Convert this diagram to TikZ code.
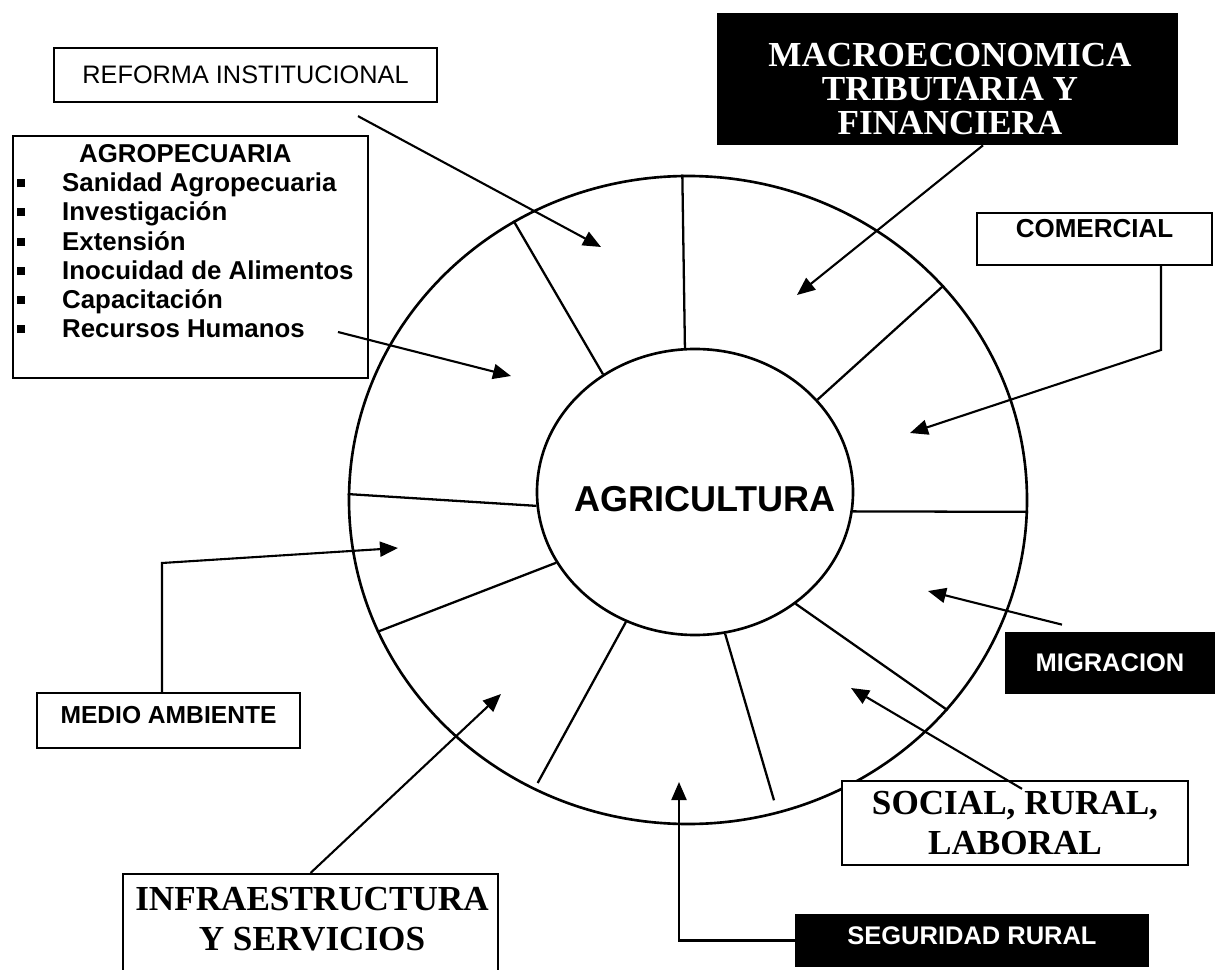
\documentclass[tikz,border=0pt]{standalone}
\usepackage{fontspec}
\setmainfont{Liberation Serif}
\setsansfont{Liberation Sans}
\usetikzlibrary{arrows.meta}
\usetikzlibrary{shapes.geometric}

\newcommand{\agbullet}{\raisebox{0.9mm}{\rule{1.6mm}{1.6mm}}}

\tikzset{
    wheel/.style={draw, ellipse, line width=1.5pt, inner sep=0pt},
    tagbox/.style={draw, fill=white, line width=1.3pt, inner sep=0pt, text height=3.6mm, text depth=0pt,
        font=\sffamily\bfseries\fontsize{14}{16.6}\selectfont},
    darkbox/.style={fill=black, text=white, inner sep=0pt, font=\sffamily\bfseries\fontsize{14.5}{16.6}\selectfont},
    bigbox/.style={draw, fill=white, line width=1.3pt, inner sep=0pt, align=center,
        font=\rmfamily\bfseries\fontsize{20}{22.8}\selectfont},
    feed/.style={line width=1.2pt, -{Triangle[length=3.6mm, width=3mm]}}
}

\begin{document}
\begin{tikzpicture}[x=0.2mm, y=-0.2mm]
    \useasboundingbox (0,0) rectangle (1215,970);
    \clip (0,0) rectangle (1215,970);

    % Wheel: outer ring and hub
    \node[wheel, minimum width=135.6mm, minimum height=129.6mm] (ring) at (688,500) {};
    \node[wheel, minimum width=63.2mm, minimum height=57.2mm] (agri) at (695,492) {};
    \node[font=\sffamily\bfseries\fontsize{20.5}{24}\selectfont] (agritxt) at (705,499) {AGRICULTURA};

    % Spokes between hub and ring
    \foreach \a/\b/\cut in {94/91/0pt, 128/122/0pt, 185/179/0pt, 207/203/0pt, 242/242/1.6mm,
                            282/286/2.8mm, 312/321/0pt, 353/358/0pt, 37/40/0pt}
        \draw[line width=1.3pt, shorten >=\cut] (agri.\a) -- (ring.\b);

    % Reforma institucional
    \node[tagbox, font=\sffamily\fontsize{14.4}{16.6}\selectfont, minimum width=76.6mm, minimum height=10.8mm]
        (reform) at (245.5,75) {REFORMA INSTITUCIONAL};

    % Agropecuaria with its list
    \node[draw, fill=white, line width=1.3pt, inner sep=0pt, minimum width=71mm, minimum height=48.4mm]
        (agro) at (190.5,257) {};
    \node[anchor=north west, inner xsep=1mm, inner ysep=1.4mm,
          font=\sffamily\bfseries\fontsize{14.7}{16.6}\selectfont] (agrolist) at (agro.north west) {%
        \begin{tabular}{@{}l@{\hspace{7.4mm}}l@{}}
            \multicolumn{2}{c}{AGROPECUARIA} \\
            \agbullet & Sanidad Agropecuaria \\
            \agbullet & Investigación \\
            \agbullet & Extensión \\
            \agbullet & Inocuidad de Alimentos \\
            \agbullet & Capacitación \\
            \agbullet & Recursos Humanos
        \end{tabular}};

    % Macroeconomica (dark box)
    \node[darkbox, minimum width=92.2mm, minimum height=26.4mm] (macro) at (947.5,79) {};
    \node[text=white, inner sep=0pt, align=center, font=\rmfamily\bfseries\fontsize{20}{19.4}\selectfont]
        (macrotxt) at (950,89) {MACROECONOMICA\\TRIBUTARIA Y\\FINANCIERA};

    % Comercial
    \node[tagbox, font=\sffamily\bfseries\fontsize{14.8}{16.6}\selectfont, minimum width=47mm, minimum height=10.4mm,
          text depth=4mm] (comer) at (1094.5,239) {COMERCIAL};

    % Migracion (dark box)
    \node[darkbox, minimum width=42mm, minimum height=12.4mm] (migr) at (1110,663) {MIGRACION};

    % Social, rural, laboral
    \node[bigbox, minimum width=69.2mm, minimum height=16.8mm] (social) at (1015,823) {SOCIAL, RURAL,\\LABORAL};

    % Seguridad rural (dark box)
    \node[darkbox, minimum width=70.8mm, minimum height=10.6mm, text height=3.6mm, text depth=2mm]
        (segur) at (972,940.5) {SEGURIDAD RURAL};

    % Infraestructura, box runs off the page
    \node[draw, fill=white, line width=1.3pt, inner sep=0pt, minimum width=75mm, minimum height=24mm, anchor=north]
        (infra) at (310.5,873) {};
    \node[bigbox, draw=none, fill=none] (infratxt) at (312,919.5) {INFRAESTRUCTURA\\Y SERVICIOS};

    % Medio ambiente
    \node[tagbox, minimum width=52.6mm, minimum height=11mm, text depth=2.6mm] (medio) at (168.5,720.5) {MEDIO AMBIENTE};

    % Arrow ends inside the sectors
    \coordinate (reformT) at (601,247);
    \coordinate (macroT) at (797,295);
    \coordinate (comerK) at (1161,350);
    \coordinate (comerT) at (910,433);
    \coordinate (migrT) at (928,591);
    \coordinate (socialT) at (851,688);
    \coordinate (segurT) at (679,782);
    \coordinate (infraT) at (501,694);
    \coordinate (medioK) at (162,563);
    \coordinate (medioT) at (398,548);
    \coordinate (agroS) at (338,332);
    \coordinate (agroT) at (511,376);

    % Arrows into the wheel
    \draw[feed] ([xshift=22.5mm, yshift=-2.6mm]reform.south) -- (reformT);
    \draw[feed] (agroS) -- (agroT);
    \draw[feed] ([xshift=7.1mm]macro.south) -- (macroT);
    \draw[feed] ([xshift=13.3mm]comer.south) -- (comerK) -- (comerT);
    \draw[feed] ([xshift=-9.6mm, yshift=1.4mm]migr.north) -- (migrT);
    \draw[feed] ([xshift=1.4mm, yshift=-1.8mm]social.north) -- (socialT);
    \draw[feed] (segur.west) -| (segurT);
    \draw[feed] (infra.north) -- (infraT);
    \draw[feed] ([xshift=-1.3mm]medio.north) -- (medioK) -- (medioT);
\end{tikzpicture}
\end{document}
